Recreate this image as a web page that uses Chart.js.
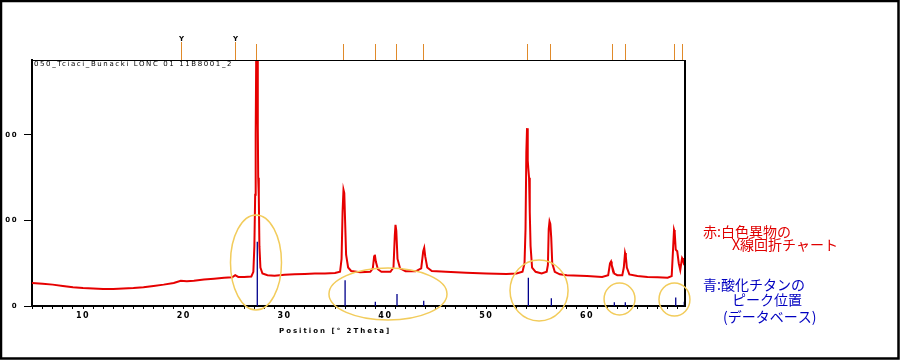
<!DOCTYPE html>
<html>
<head>
<meta charset="utf-8">
<script src="https://cdn.jsdelivr.net/npm/chart.js@4/dist/chart.umd.min.js"></script>
<style>
html,body{margin:0;padding:0;background:#fff;}
canvas{display:block;}
</style>
</head>
<body>
<canvas id="c" width="900" height="361"></canvas>
<script>
// ---- measured pattern (red) ----
const twoTheta = [4.94,6,7,8,9,10,11,12,13,14,15,16,17,18,19,19.7,20.3,21,22,23,24,24.8,25.1,25.4,26,26.7,26.9,27.0,27.08,27.13,27.18,27.3,27.34,27.38,27.44,27.5,27.6,27.8,28.3,29,30,31,32,33,34,35,35.5,35.65,35.75,35.84,35.92,36.0,36.1,36.3,36.6,37.5,38.5,38.75,38.88,38.95,39.05,39.25,39.6,40.5,40.8,40.93,41.0,41.08,41.2,41.45,42,43,43.55,43.75,43.85,43.95,44.15,44.6,46,48,50,52,53,53.6,53.8,53.9,53.98,54.05,54.12,54.18,54.25,54.32,54.4,54.55,54.9,55.5,56,56.12,56.2,56.28,56.36,56.45,56.55,56.8,57.3,58,60,61.5,62.1,62.28,62.38,62.45,62.55,62.7,63,63.5,63.65,63.77,63.85,63.95,64.2,65,66,67,68,68.4,68.55,68.63,68.7,68.8,68.95,69.1,69.25,69.35,69.43,69.52,69.6,69.72];
const intensity = [27,26,25,23.5,22,21,20.5,20,20,20.5,21,22,23.5,25,27,29.5,29,29.5,31,32,33,33.5,36,34,34,34.5,40,70,130,200,287,287,210,150,128,70,45,38,36,35.5,36.5,37,37.5,38,38,38.5,40,55,110,136,132,100,60,45,41,39.5,40,44,58,60,52,43,40,40,45,82,95,88,55,44,40.5,40.5,44,64,68,58,45,41,40,39,38,37.5,38,40,50,90,180,208,170,160,150,110,70,45,40,38,40,48,90,99,96,80,50,40,37,36,35,34,36,50,52,48,44,38,36,36,45,62,58,45,37,35,34,33.5,33,35,70,89,86,66,64,50,42,50,56,54,50,52];

// ---- reference pattern (blue sticks, TiO2) ----
const refTheta = [27.29,36.0,39.0,41.15,43.8,54.18,56.46,62.71,63.8,68.8,69.65];
const refIntensity = [75,30,5,14,6,33,9,4.5,4.5,10,5];

// ---- peak markers above the plot ----
const markerTheta = [19.72,25.11,27.19,35.82,39.0,41.02,43.76,54.08,56.36,62.45,63.77,68.66,69.46];
const markerLabels = ['Y','Y','','','','','','','','','','',''];

// ---- axis ticks ----
const yTickValues = [0,100,200];
const yTickLabels = ['0','00','00'];
const xMajorStep = 10;

// ---- texts ----
const plotTitle = '050_Tciaci_Bunacki LONC 01 11B8001_2';
const xAxisTitle = 'Position [° 2Theta]';
const noteRed = ['赤:白色異物の','X線回折チャート'];
const noteBlue = ['青:酸化チタンの','ピーク位置','(データベース)'];

// ---- highlighted regions (θ range, intensity range) ----
const circleTheta = [[24.63,29.69],[34.40,46.11],[52.36,58.12],[61.69,64.76],[67.14,70.21]];
const circleIntensity = [[-4.7,106.4],[-16.4,44.4],[-17.5,53.8],[-10.5,26.9],[-11.7,26.9]];

const redPoints = twoTheta.map((t,i)=>({x:t,y:intensity[i]}));
const bluePoints = [];
refTheta.forEach((t,i)=>{ bluePoints.push({x:t,y:0},{x:t,y:refIntensity[i]},{x:t,y:null}); });

const deco = {
  id:'deco',
  beforeDraw(chart){ chart.ctx.letterSpacing = '1.5px'; },
  afterDraw(chart){
    const ctx = chart.ctx, xs = chart.scales.x, ys = chart.scales.y, ca = chart.chartArea;
    ctx.save();
    // plot frame top/right
    ctx.strokeStyle = '#000';
    ctx.lineWidth = 1;
    ctx.beginPath(); ctx.moveTo(ca.left, ca.top+0.5); ctx.lineTo(ca.right+1, ca.top+0.5); ctx.stroke();
    ctx.lineWidth = 2;
    ctx.beginPath(); ctx.moveTo(ca.right, ca.top); ctx.lineTo(ca.right, ca.bottom+1); ctx.stroke();
    // markers
    ctx.lineWidth = 1;
    markerTheta.forEach((t,i)=>{
      const px = Math.round(xs.getPixelForValue(t))+0.5;
      const top = markerLabels[i] ? 42 : 44;
      ctx.strokeStyle = '#e08a2a';
      ctx.beginPath(); ctx.moveTo(px, top); ctx.lineTo(px, ca.top); ctx.stroke();
      if (markerLabels[i]) {
        ctx.letterSpacing = '0px';
        ctx.fillStyle = '#000';
        ctx.font = 'bold 7px "DejaVu Sans"';
        ctx.textAlign = 'center'; ctx.textBaseline = 'bottom';
        ctx.fillText(markerLabels[i], px, 43);
      }
    });
    // plot title
    ctx.letterSpacing = '1.6px';
    ctx.fillStyle = '#000';
    ctx.font = '7px "DejaVu Sans"';
    ctx.textAlign = 'left'; ctx.textBaseline = 'top';
    ctx.fillText(plotTitle, ca.left+2, ca.top+1);
    // axis title
    ctx.letterSpacing = '2px';
    ctx.font = 'bold 7px "DejaVu Sans"';
    ctx.textAlign = 'left'; ctx.textBaseline = 'middle';
    ctx.fillText(xAxisTitle, 279, 331);
    ctx.letterSpacing = '0px';
    // highlight ellipses
    ctx.strokeStyle = '#f2cc5c';
    ctx.lineWidth = 1.5;
    circleTheta.forEach((r,i)=>{
      const x1 = xs.getPixelForValue(r[0]), x2 = xs.getPixelForValue(r[1]);
      const y1 = ys.getPixelForValue(circleIntensity[i][0]), y2 = ys.getPixelForValue(circleIntensity[i][1]);
      ctx.beginPath();
      ctx.ellipse((x1+x2)/2,(y1+y2)/2,Math.abs(x2-x1)/2,Math.abs(y2-y1)/2,0,0,Math.PI*2);
      ctx.stroke();
    });
    // notes
    ctx.letterSpacing = '0px';
    ctx.font = '400 14px "Noto Sans CJK JP"';
    ctx.textAlign = 'left'; ctx.textBaseline = 'middle';
    ctx.fillStyle = '#e00000';
    ctx.fillText(noteRed[0], 703, 232);
    ctx.fillText(noteRed[1], 732, 245);
    ctx.fillStyle = '#0000c0';
    ctx.fillText(noteBlue[0], 703, 285);
    ctx.fillText(noteBlue[1], 732, 300);
    ctx.fillText(noteBlue[2], 723, 317);
    // outer frame
    ctx.strokeStyle = '#000';
    ctx.lineWidth = 2.5;
    ctx.strokeRect(1, 1, 897.5, 357.5);
    ctx.restore();
  }
};

new Chart(document.getElementById('c'), {
  type:'line',
  data:{ datasets:[
    { data: bluePoints, borderColor:'#00008c', borderWidth:1.3, pointRadius:0, spanGaps:false, order:2 },
    { data: redPoints, borderColor:'#e60000', borderWidth:2, pointRadius:0, tension:0, order:1 }
  ]},
  options:{
    responsive:false, animation:false, devicePixelRatio:1,
    layout:{ padding:{ top:60, right:215, left:0, bottom:0 } },
    plugins:{ legend:{display:false}, tooltip:{enabled:false}, title:{display:false} },
    scales:{
      x:{
        type:'linear', min:4.94, max:69.72,
        afterFit(s){ s.height = 55; },
        afterBuildTicks(s){ const t=[]; for(let v=5; v<=69; v++) t.push({value:v}); s.ticks=t; },
        ticks:{ autoSkip:false, maxRotation:0, padding:2, color:'#000',
          font:{ size:8, family:'"DejaVu Sans"', weight:'bold' },
          callback:(v)=> (v % xMajorStep === 0 ? String(v) : '') },
        grid:{ drawOnChartArea:false, drawTicks:true, tickLength:3, tickColor:'#000', tickWidth:1 },
        border:{ display:true, color:'#000', width:2 }
      },
      y:{
        min:0, max:287.7,
        afterFit(s){ s.width = 32; },
        afterBuildTicks(s){ s.ticks = yTickValues.map(v=>({value:v})); },
        ticks:{ padding:6, color:'#000', font:{ size:7, family:'"DejaVu Sans"', weight:'bold' },
          callback:(v)=>{ const i = yTickValues.indexOf(v); return i>=0 ? yTickLabels[i] : ''; } },
        grid:{ drawOnChartArea:false, drawTicks:true, tickLength:8, tickColor:'#000', tickWidth:1 },
        border:{ display:true, color:'#000', width:2 }
      }
    }
  },
  plugins:[deco]
});
</script>
</body>
</html>
